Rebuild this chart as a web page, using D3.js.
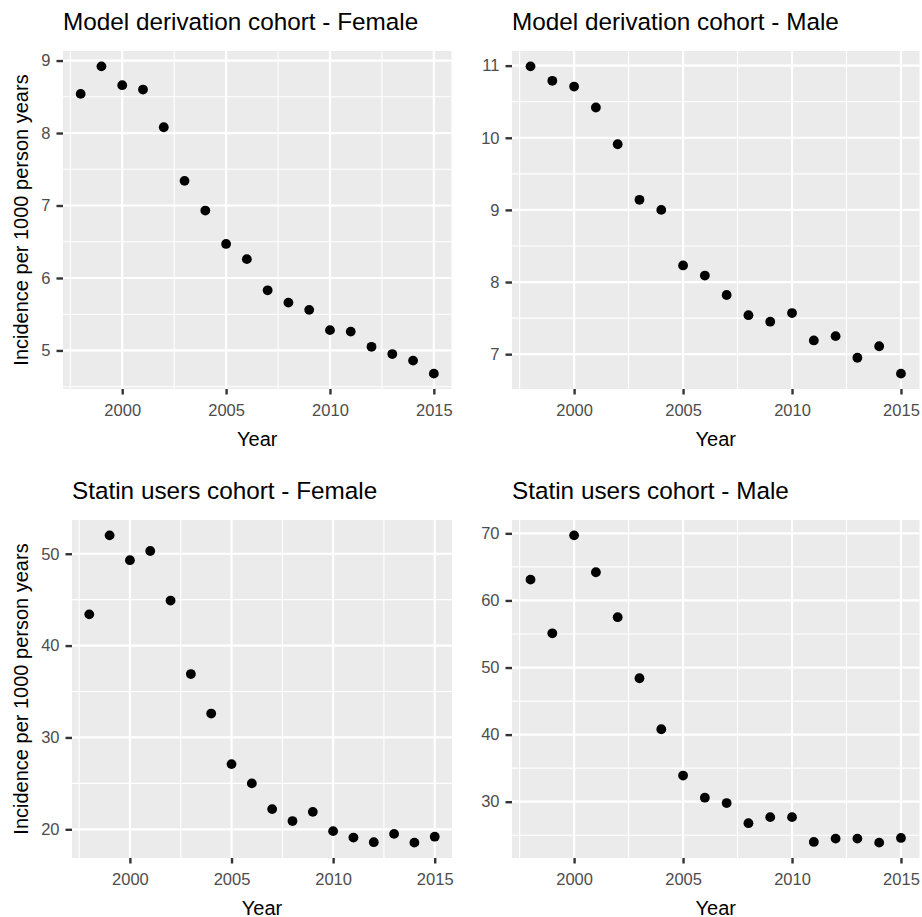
<!DOCTYPE html>
<html>
<head>
<meta charset="utf-8">
<script src="https://cdn.jsdelivr.net/npm/d3@7"></script>
<style>
  body { margin: 0; background: #fff; }
  text { font-family: "Liberation Sans", Arial, sans-serif; }
</style>
</head>
<body>
<div id="my_dataviz"></div>
<script>
// data
var years = [1998, 1999, 2000, 2001, 2002, 2003, 2004, 2005, 2006,
  2007, 2008, 2009, 2010, 2011, 2012, 2013, 2014, 2015];

var derivFemale = [8.54, 8.92, 8.66, 8.60, 8.08, 7.34, 6.93, 6.47, 6.26,
  5.83, 5.66, 5.56, 5.28, 5.26, 5.05, 4.95, 4.86, 4.68];
var derivMale = [10.99, 10.79, 10.71, 10.42, 9.91, 9.14, 9.00, 8.23, 8.09,
  7.82, 7.54, 7.45, 7.57, 7.19, 7.25, 6.95, 7.11, 6.73];
var statinFemale = [43.4, 52.0, 49.3, 50.3, 44.9, 36.9, 32.6, 27.1, 25.0,
  22.2, 20.9, 21.9, 19.8, 19.1, 18.6, 19.5, 18.55, 19.2];
var statinMale = [63.1, 55.1, 69.7, 64.2, 57.5, 48.4, 40.8, 33.9, 30.6,
  29.8, 26.8, 27.7, 27.7, 24.0, 24.5, 24.5, 23.9, 24.6];

var titles = ["Model derivation cohort - Female", "Model derivation cohort - Male",
  "Statin users cohort - Female", "Statin users cohort - Male"];
var xTitle = "Year";
var yTitle = "Incidence per 1000 person years";

var svg = d3.select("#my_dataviz")
  .append("svg")
  .attr("width", 922)
  .attr("height", 917);

// panel boxes (plot area of each facet)
var boxes = [
  {left: 63, top: 51, right: 451.5, bottom: 389},
  {left: 512, top: 51, right: 919.5, bottom: 389},
  {left: 72, top: 520, right: 452, bottom: 858},
  {left: 512, top: 520, right: 919.5, bottom: 858}
];

// ggplot style 5% expansion
function expand(ext) {
  var pad = (ext[1] - ext[0]) * 0.05;
  return [ext[0] - pad, ext[1] + pad];
}

// minor breaks halfway between majors, also one step outside
function minors(ticks, dom) {
  var step = ticks[1] - ticks[0];
  var out = [ticks[0] - step / 2];
  ticks.forEach(function(t) { out.push(t + step / 2); });
  return out.filter(function(v) { return v > dom[0] && v < dom[1]; });
}

function drawPanel(box, values, title, showYTitle) {
  var w = box.right - box.left, h = box.bottom - box.top;
  var g = svg.append("g")
    .attr("transform", "translate(" + box.left + "," + box.top + ")");

  var xDom = expand(d3.extent(years));
  var yDom = expand(d3.extent(values));
  var x = d3.scaleLinear().domain(xDom).range([0, w]);
  var y = d3.scaleLinear().domain(yDom).range([h, 0]);
  var xTicks = x.ticks(5), yTicks = y.ticks(5);

  g.append("rect")
    .attr("width", w)
    .attr("height", h)
    .attr("fill", "#EBEBEB");

  // minor grid
  g.selectAll(".vminor").data(minors(xTicks, xDom)).enter().append("line")
    .attr("x1", function(d) { return x(d) }).attr("x2", function(d) { return x(d) })
    .attr("y1", 0).attr("y2", h)
    .attr("stroke", "#fff").attr("stroke-width", 1.1);
  g.selectAll(".hminor").data(minors(yTicks, yDom)).enter().append("line")
    .attr("y1", function(d) { return y(d) }).attr("y2", function(d) { return y(d) })
    .attr("x1", 0).attr("x2", w)
    .attr("stroke", "#fff").attr("stroke-width", 1.1);

  // major grid
  g.selectAll(".vmajor").data(xTicks).enter().append("line")
    .attr("x1", function(d) { return x(d) }).attr("x2", function(d) { return x(d) })
    .attr("y1", 0).attr("y2", h)
    .attr("stroke", "#fff").attr("stroke-width", 2.2);
  g.selectAll(".hmajor").data(yTicks).enter().append("line")
    .attr("y1", function(d) { return y(d) }).attr("y2", function(d) { return y(d) })
    .attr("x1", 0).attr("x2", w)
    .attr("stroke", "#fff").attr("stroke-width", 2.2);

  // axes
  var xAxis = g.append("g")
    .attr("transform", "translate(0," + h + ")")
    .call(d3.axisBottom(x).tickValues(xTicks).tickFormat(d3.format("d"))
      .tickSize(5.5).tickPadding(4));
  var yAxis = g.append("g")
    .call(d3.axisLeft(y).tickValues(yTicks).tickFormat(d3.format("~g"))
      .tickSize(6.5).tickPadding(6));
  [xAxis, yAxis].forEach(function(a) {
    a.select(".domain").remove();
    a.selectAll(".tick line").attr("stroke", "#333333").attr("stroke-width", 2.4);
    a.selectAll(".tick text")
      .attr("fill", "#4D4D4D")
      .style("font-size", "16.5px")
      .style("font-family", "Liberation Sans, Arial, sans-serif");
  });
  xAxis.selectAll(".tick text").attr("dy", null).attr("y", 27);

  // points
  g.selectAll("circle")
    .data(values)
    .enter()
    .append("circle")
    .attr("cx", function(d, i) { return x(years[i]) })
    .attr("cy", function(d) { return y(d) })
    .attr("r", 4.9)
    .attr("fill", "#000");

  // titles
  svg.append("text")
    .attr("x", box.left)
    .attr("y", box.top - 21)
    .style("font-size", "24.3px")
    .attr("fill", "#000")
    .text(title);

  svg.append("text")
    .attr("x", box.left + w / 2)
    .attr("y", box.bottom + 56.5)
    .attr("text-anchor", "middle")
    .style("font-size", "20px")
    .attr("fill", "#000")
    .text(xTitle);

  if (showYTitle) {
    svg.append("text")
      .attr("transform", "translate(28," + (box.top + h / 2) + ") rotate(-90)")
      .attr("text-anchor", "middle")
      .style("font-size", "20px")
      .attr("fill", "#000")
      .text(yTitle);
  }
}

var series = [derivFemale, derivMale, statinFemale, statinMale];
series.forEach(function(s, i) {
  drawPanel(boxes[i], s, titles[i], i % 2 === 0);
});
</script>
</body>
</html>
